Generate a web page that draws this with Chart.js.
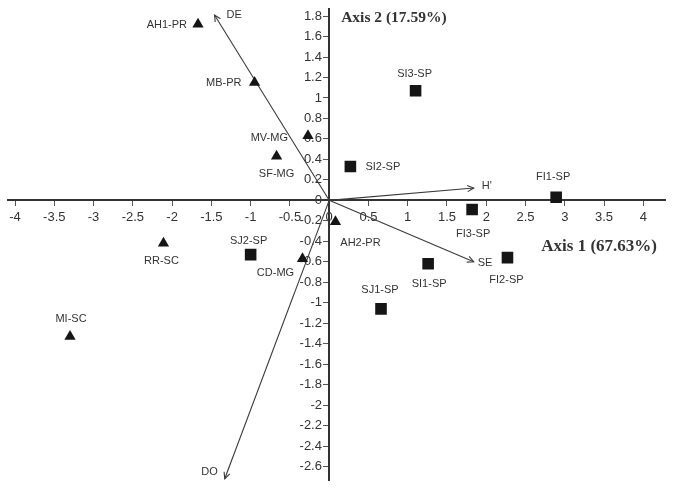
<!DOCTYPE html>
<html><head><meta charset="utf-8">
<script src="https://cdn.jsdelivr.net/npm/chart.js@4/dist/chart.umd.min.js"></script>
<style>html,body{margin:0;padding:0;background:#fff;}#wrap{width:675px;height:494px;position:relative;}</style>
</head><body><div id="wrap"><canvas id="c"></canvas></div>
<script>
// ---- data ----
const triangleNames = ['AH1-PR','MB-PR','MV-MG','SF-MG','RR-SC','CD-MG','AH2-PR','MI-SC'];
const triangleX = [-1.67, -0.95, -0.27, -0.67, -2.11, -0.34, 0.08, -3.30];
const triangleY = [ 1.72,  1.15,  0.63,  0.43, -0.42, -0.57, -0.21, -1.33];

const squareNames = ['SI3-SP','SI2-SP','FI1-SP','FI3-SP','SI1-SP','FI2-SP','SJ1-SP','SJ2-SP'];
const squareX = [1.10, 0.27, 2.89, 1.82, 1.26, 2.27, 0.66, -1.00];
const squareY = [1.07, 0.33, 0.03, -0.09, -0.62, -0.56, -1.06, -0.53];

const vectorNames = ['DE', "H'", 'SE', 'DO'];
const vectorX = [-1.46, 1.84, 1.84, -1.33];
const vectorY = [ 1.81, 0.12, -0.60, -2.72];

const axis1Title = 'Axis 1 (67.63%)';
const axis2Title = 'Axis 2 (17.59%)';

// ---- label placement (style, pixel offsets from the mark) ----
const labelPlace = {
  'AH1-PR':{dx:-11,dy:1,align:'right'},
  'MB-PR':{dx:-13,dy:0,align:'right'},
  'MV-MG':{dx:-20,dy:2,align:'right'},
  'SF-MG':{dx:0,dy:18,align:'center'},
  'RR-SC':{dx:-2,dy:18,align:'center'},
  'CD-MG':{dx:-27,dy:14,align:'center'},
  'AH2-PR':{dx:25,dy:21,align:'center'},
  'MI-SC':{dx:1,dy:-18,align:'center'},
  'SI3-SP':{dx:-1,dy:-17,align:'center'},
  'SI2-SP':{dx:15,dy:0,align:'left'},
  'FI1-SP':{dx:-3,dy:-20,align:'center'},
  'FI3-SP':{dx:1,dy:24,align:'center'},
  'SI1-SP':{dx:1,dy:20,align:'center'},
  'FI2-SP':{dx:-1,dy:22,align:'center'},
  'SJ1-SP':{dx:-1,dy:-19,align:'center'},
  'SJ2-SP':{dx:-2,dy:-14,align:'center'},
  'DE':{dx:12,dy:0,align:'left'},
  "H'":{dx:8,dy:-2,align:'left'},
  'SE':{dx:4,dy:1,align:'left'},
  'DO':{dx:-7,dy:-7,align:'right'}
};

const FONT = '"Liberation Sans", Arial, sans-serif';
const TXT = '#333';
const MARK = '#151515';

const pts = (xs, ys) => xs.map((x, i) => ({x, y: ys[i]}));

const datasets = [
  {label:'triangles', names: triangleNames, data: pts(triangleX, triangleY), pointStyle:'triangle', pointRadius:6.5, backgroundColor:MARK, borderColor:MARK, borderWidth:0, showLine:false},
  {label:'squares', names: squareNames, data: pts(squareX, squareY), pointStyle:'rect', pointRadius:8.2, backgroundColor:MARK, borderColor:MARK, borderWidth:0, showLine:false}
];
vectorNames.forEach((n, i) => {
  datasets.push({label:'vec', isVector:true, names:['', n], data:[{x:0,y:0},{x:vectorX[i], y:vectorY[i]}], showLine:true, borderColor:'#3a3a3a', borderWidth:1.1, pointRadius:0, fill:false});
});

const arrowAndLabels = {
  id:'arrowAndLabels',
  afterDatasetsDraw(chart){
    const ctx = chart.ctx;
    ctx.save();
    chart.data.datasets.forEach((ds, di) => {
      const meta = chart.getDatasetMeta(di);
      if (ds.isVector) {
        const a = meta.data[0], b = meta.data[1];
        const ang = Math.atan2(b.y - a.y, b.x - a.x);
        const L = 7, sp = 0.45;
        ctx.strokeStyle = '#3a3a3a'; ctx.lineWidth = 1.1;
        ctx.beginPath();
        ctx.moveTo(b.x - L*Math.cos(ang - sp), b.y - L*Math.sin(ang - sp));
        ctx.lineTo(b.x, b.y);
        ctx.lineTo(b.x - L*Math.cos(ang + sp), b.y - L*Math.sin(ang + sp));
        ctx.stroke();
      }
      ctx.font = '11px ' + FONT;
      ctx.fillStyle = TXT;
      ctx.textBaseline = 'middle';
      meta.data.forEach((el, i) => {
        const name = ds.names[i];
        if (!name) return;
        const p = labelPlace[name] || {dx:0,dy:-15,align:'center'};
        ctx.textAlign = p.align;
        ctx.fillText(name, el.x + p.dx, el.y + p.dy);
      });
    });
    // axis titles
    const xs = chart.scales.x, ys = chart.scales.y, ca = chart.chartArea;
    ctx.fillStyle = TXT;
    ctx.textBaseline = 'middle';
    ctx.font = 'bold 15.5px "Liberation Serif", "Times New Roman", serif';
    ctx.textAlign = 'left';
    ctx.fillText(axis2Title, xs.getPixelForValue(0) + 12, ys.getPixelForValue(0) - 182);
    ctx.font = 'bold 17px "Liberation Serif", "Times New Roman", serif';
    ctx.textAlign = 'right';
    ctx.fillText(axis1Title, ca.right - 8, ys.getPixelForValue(0) + 46);
    ctx.restore();
  }
};

const fmtX = v => String(Math.round(v * 10) / 10);
const fmtY = v => String(Math.round(v * 10) / 10) + '  ';

new Chart(document.getElementById('c'), {
  type:'scatter',
  data:{datasets},
  options:{
    responsive:true, maintainAspectRatio:false, animation:false,
    layout:{padding:{left:0, right:10, top:0, bottom:14}},
    plugins:{legend:{display:false}, tooltip:{enabled:false}},
    scales:{
      x:{type:'linear', position:{y:0}, min:-4.087, max:4.276,
        border:{display:true, color:'#333', width:2},
        grid:{display:true, drawOnChartArea:false, drawTicks:true, tickLength:5, color:'#555', lineWidth:1},
        ticks:{stepSize:0.5, includeBounds:false, autoSkip:false, maxRotation:0, padding:4, color:TXT, font:{family:FONT, size:13}, callback:fmtX}
      },
      y:{type:'linear', position:{x:0}, min:-2.732, max:1.871,
        border:{display:true, color:'#333', width:2},
        grid:{display:true, drawOnChartArea:false, drawTicks:true, tickLength:5, color:'#555', lineWidth:1},
        ticks:{stepSize:0.2, includeBounds:false, autoSkip:false, padding:1, color:TXT, font:{family:FONT, size:13}, callback:fmtY}
      }
    }
  },
  plugins:[arrowAndLabels]
});
</script>
</body></html>
